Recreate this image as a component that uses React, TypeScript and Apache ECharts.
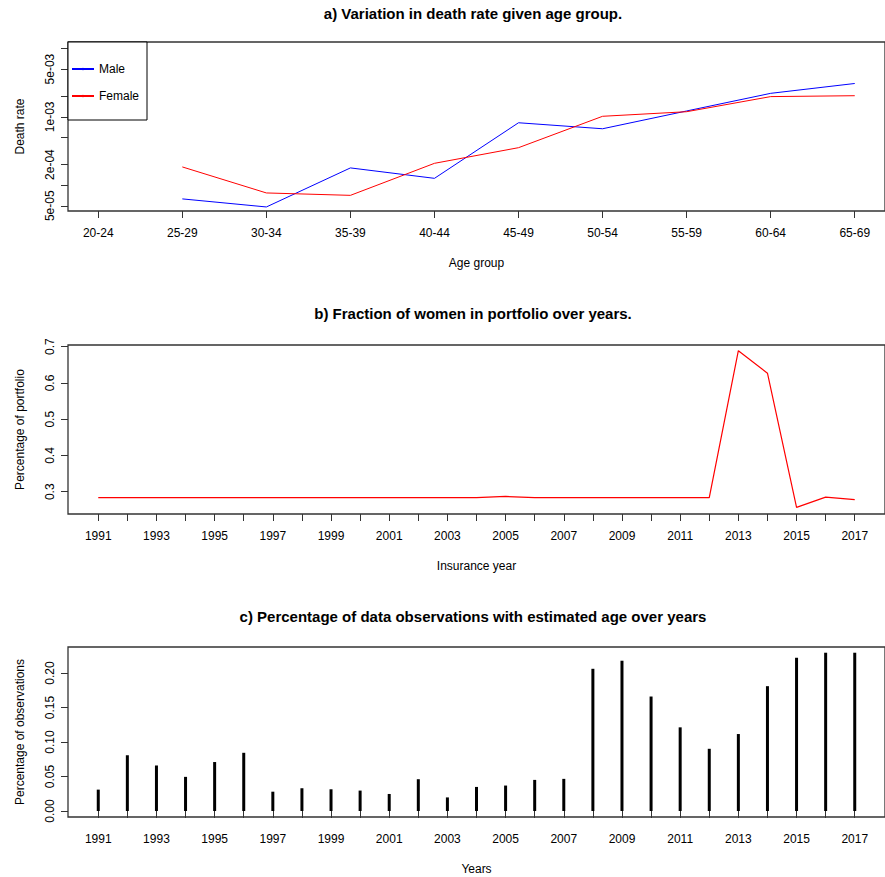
import React, { useEffect, useRef } from "react";
import * as echarts from "echarts";

// ---------- Panel a: death rate by age group ----------
const ageGroups = ["20-24", "25-29", "30-34", "35-39", "40-44", "45-49", "50-54", "55-59", "60-64", "65-69"];
const maleDeathRate: (number | null)[] = [null, 6.3e-5, 4.8e-5, 1.79e-4, 1.26e-4, 8.2e-4, 6.7e-4, 1.22e-3, 2.21e-3, 3.08e-3];
const femaleDeathRate: (number | null)[] = [null, 1.85e-4, 7.7e-5, 7.1e-5, 2.09e-4, 3.54e-4, 1.02e-3, 1.19e-3, 1.98e-3, 2.04e-3];
const deathTickValues = [5e-5, 1e-4, 2e-4, 5e-4, 1e-3, 2e-3, 5e-3, 1e-2];
const deathLabelValues = [5e-5, 2e-4, 1e-3, 5e-3];
const deathLabelTexts = ["5e-05", "2e-04", "1e-03", "5e-03"];

// ---------- Panel b: fraction of women ----------
const years = [1991, 1992, 1993, 1994, 1995, 1996, 1997, 1998, 1999, 2000, 2001, 2002, 2003, 2004, 2005, 2006, 2007, 2008, 2009, 2010, 2011, 2012, 2013, 2014, 2015, 2016, 2017];
const yearLabels = [1991, 1993, 1995, 1997, 1999, 2001, 2003, 2005, 2007, 2009, 2011, 2013, 2015, 2017];
const womenFraction = [0.284, 0.284, 0.284, 0.284, 0.284, 0.284, 0.284, 0.284, 0.284, 0.284, 0.284, 0.284, 0.284, 0.284, 0.287, 0.284, 0.284, 0.284, 0.284, 0.284, 0.284, 0.284, 0.689, 0.627, 0.257, 0.285, 0.278];
const fractionTicks = [0.3, 0.4, 0.5, 0.6, 0.7];

// ---------- Panel c: estimated age share ----------
const estimatedAgeShare = [0.031, 0.081, 0.066, 0.0495, 0.071, 0.0844, 0.028, 0.033, 0.0315, 0.0296, 0.0247, 0.0461, 0.0197, 0.0349, 0.0369, 0.0451, 0.0466, 0.2062, 0.2179, 0.166, 0.1213, 0.0902, 0.1116, 0.181, 0.2222, 0.2295, 0.2295];
const shareTicks = [0, 0.05, 0.1, 0.15, 0.2];

const FONT = "'Liberation Sans', Arial, sans-serif";
const AXIS_COLOR = "#333";

export default function App() {
  const ref = useRef<HTMLDivElement>(null);
  useEffect(() => {
    if (!ref.current) return;
    const chart = echarts.init(ref.current, null, { renderer: "svg" });

    const lbl = { color: "#000", fontSize: 12, fontFamily: FONT };
    const tick = { show: true, inside: false, length: 7, lineStyle: { color: AXIS_COLOR, width: 1 } };
    const nameStyle = { color: "#000", fontSize: 12, fontFamily: FONT };
    const titleStyle = { fontSize: 15, fontWeight: "bold", color: "#000", fontFamily: FONT };

    const gridBox = { show: true, borderColor: AXIS_COLOR, borderWidth: 1.3, backgroundColor: "transparent", containLabel: false };

    const yearAxis = (gridIndex: number, name: string) => ({
      type: "value",
      gridIndex,
      min: 1989.96,
      max: 2018.04,
      axisLine: { show: false },
      splitLine: { show: false },
      axisTick: { ...tick, customValues: years },
      axisLabel: { ...lbl, margin: 16, customValues: yearLabels, formatter: (v: number) => String(Math.round(v)) },
      name,
      nameLocation: "middle",
      nameGap: 46,
      nameTextStyle: nameStyle,
    });

    const option: any = {
      animation: false,
      backgroundColor: "#fff",
      title: [
        { text: "a) Variation in death rate given age group.", left: 473, top: 6, textAlign: "center", padding: 0, textStyle: titleStyle },
        { text: "b) Fraction of women in portfolio over years.", left: 473, top: 306, textAlign: "center", padding: 0, textStyle: titleStyle },
        { text: "c) Percentage of data observations with estimated age over years", left: 473, top: 609, textAlign: "center", padding: 0, textStyle: titleStyle },
      ],
      legend: {
        left: 68,
        top: 42,
        orient: "vertical",
        data: ["Male", "Female"],
        backgroundColor: "#fff",
        borderColor: "#000",
        borderWidth: 1,
        borderRadius: 0,
        padding: [21, 8, 18, 3],
        itemWidth: 22,
        itemHeight: 3,
        itemGap: 15,
        textStyle: { color: "#000", fontSize: 12, fontFamily: FONT },
      },
      grid: [
        { ...gridBox, left: 68, top: 42, width: 819, height: 169 },
        { ...gridBox, left: 68, top: 345, width: 819, height: 169 },
        { ...gridBox, left: 68, top: 647, width: 819, height: 170 },
      ],
      xAxis: [
        {
          type: "value",
          gridIndex: 0,
          min: 0.64,
          max: 10.36,
          axisLine: { show: false },
          splitLine: { show: false },
          axisTick: { ...tick, customValues: ageGroups.map((_, i) => i + 1) },
          axisLabel: { ...lbl, margin: 16, customValues: ageGroups.map((_, i) => i + 1), formatter: (v: number) => ageGroups[Math.round(v) - 1] },
          name: "Age group",
          nameLocation: "middle",
          nameGap: 46,
          nameTextStyle: nameStyle,
        },
        yearAxis(1, "Insurance year"),
        yearAxis(2, "Years"),
      ],
      yAxis: [
        {
          type: "value",
          gridIndex: 0,
          min: Math.log10(4.19e-5),
          max: Math.log10(0.01247),
          axisLine: { show: false },
          splitLine: { show: false },
          axisTick: { ...tick, customValues: deathTickValues.map((v) => Math.log10(v)) },
          axisLabel: {
            ...lbl,
            rotate: 90,
            margin: 12,
            customValues: deathLabelValues.map((v) => Math.log10(v)),
            formatter: (v: number) => {
              let best = 0;
              deathLabelValues.forEach((d, i) => {
                if (Math.abs(Math.log10(d) - v) < Math.abs(Math.log10(deathLabelValues[best]) - v)) best = i;
              });
              return deathLabelTexts[best];
            },
          },
          name: "Death rate",
          nameLocation: "middle",
          nameGap: 42,
          nameTextStyle: nameStyle,
        },
        {
          type: "value",
          gridIndex: 1,
          min: 0.2386,
          max: 0.7047,
          axisLine: { show: false },
          splitLine: { show: false },
          axisTick: { ...tick, customValues: fractionTicks },
          axisLabel: { ...lbl, rotate: 90, margin: 12, customValues: fractionTicks, formatter: (v: number) => v.toFixed(1) },
          name: "Percentage of portfolio",
          nameLocation: "middle",
          nameGap: 42,
          nameTextStyle: nameStyle,
        },
        {
          type: "value",
          gridIndex: 2,
          min: -0.0087,
          max: 0.2378,
          axisLine: { show: false },
          splitLine: { show: false },
          axisTick: { ...tick, customValues: shareTicks },
          axisLabel: { ...lbl, rotate: 90, margin: 12, customValues: shareTicks, formatter: (v: number) => v.toFixed(2) },
          name: "Percentage of observations",
          nameLocation: "middle",
          nameGap: 42,
          nameTextStyle: nameStyle,
        },
      ],
      series: [
        {
          name: "Male",
          type: "line",
          xAxisIndex: 0,
          yAxisIndex: 0,
          data: maleDeathRate.map((v, i) => (v == null ? null : [i + 1, Math.log10(v)])).filter((d) => d !== null),
          showSymbol: false,
          symbol: "circle",
          lineStyle: { color: "#0000ff", width: 1 },
          itemStyle: { color: "#0000ff" },
        },
        {
          name: "Female",
          type: "line",
          xAxisIndex: 0,
          yAxisIndex: 0,
          data: femaleDeathRate.map((v, i) => (v == null ? null : [i + 1, Math.log10(v)])).filter((d) => d !== null),
          showSymbol: false,
          symbol: "circle",
          lineStyle: { color: "#ff0000", width: 1 },
          itemStyle: { color: "#ff0000" },
        },
        {
          name: "Fraction of women",
          type: "line",
          xAxisIndex: 1,
          yAxisIndex: 1,
          data: years.map((y, i) => [y, womenFraction[i]]),
          showSymbol: false,
          lineStyle: { color: "#ff0000", width: 1.2 },
          itemStyle: { color: "#ff0000" },
        },
        {
          name: "Estimated age",
          type: "bar",
          xAxisIndex: 2,
          yAxisIndex: 2,
          data: years.map((y, i) => [y, estimatedAgeShare[i]]),
          barWidth: 3,
          itemStyle: { color: "#000" },
        },
      ],
    };
    chart.setOption(option);
    return () => chart.dispose();
  }, []);
  return <div ref={ref} style={{ position: "fixed", left: 0, top: 0, width: 885, height: 877, background: "#fff" }} />;
}
